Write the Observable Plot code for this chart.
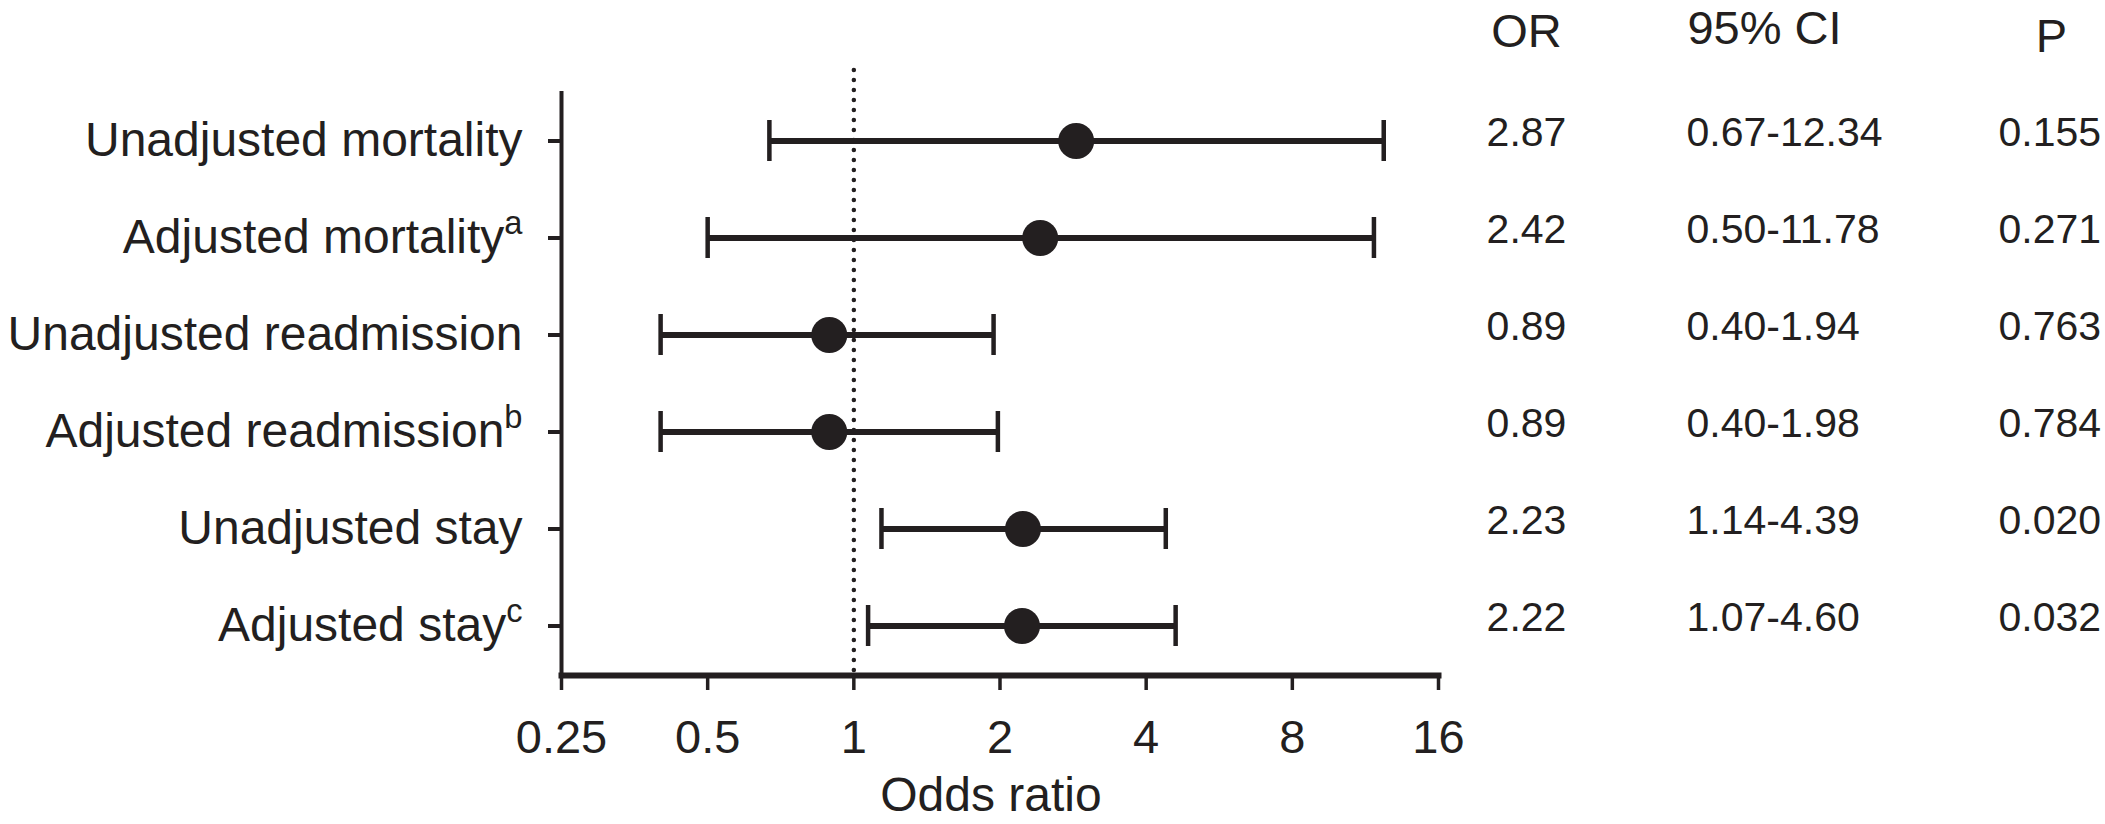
<!DOCTYPE html>
<html><head><meta charset="utf-8">
<script src="https://cdn.jsdelivr.net/npm/d3@7"></script>
<script src="https://cdn.jsdelivr.net/npm/@observablehq/plot@0.6"></script>
<style>html,body{margin:0;padding:0;background:#fff;overflow:hidden}</style>
</head><body><div id="chart"></div>
<script>
const labels = ["Unadjusted mortality","Adjusted mortality","Unadjusted readmission","Adjusted readmission","Unadjusted stay","Adjusted stay"];
const superscripts = ["","a","","b","","c"];
const oddsRatio = [2.87,2.42,0.89,0.89,2.23,2.22];
const ciLow = [0.67,0.50,0.40,0.40,1.14,1.07];
const ciHigh = [12.34,11.78,1.94,1.98,4.39,4.60];
const pValues = ["0.155","0.271","0.763","0.784","0.020","0.032"];
const xTicks = [0.25,0.5,1,2,4,8,16];
const headers = ["OR","95% CI","P"];
const xLabel = "Odds ratio";

const rows = labels.map((label,i)=>({
  label, or: oddsRatio[i], lo: ciLow[i], hi: ciHigh[i], p: pValues[i],
  ci: ciLow[i].toFixed(2)+"-"+ciHigh[i].toFixed(2), orText: oddsRatio[i].toFixed(2)
}));

const ink = "#231f20";
const plot = Plot.plot({
  width: 2105, height: 824,
  marginLeft: 561, marginRight: 667, marginTop: 91, marginBottom: 149,
  style: {fontFamily: "'Liberation Sans', Arial, sans-serif", color: ink, background: "#fff"},
  x: {type: "log", base: 2, domain: [0.25,16]},
  y: {type: "band", domain: labels, padding: 0, label: null},
  marks: [
    Plot.frame({anchor: "bottom", stroke: ink, strokeWidth: 6}),
    Plot.ruleX([xTicks[0]], {stroke: ink, strokeWidth: 4}),
    Plot.ruleX([1], {stroke: ink, strokeWidth: 4.5, strokeDasharray: "0,10", strokeLinecap: "round", insetTop: -21}),
    Plot.axisX({ticks: xTicks, tickFormat: d => String(d), tickSize: 15, tickPadding: 29, fontSize: 47, strokeWidth: 3.5, label: null}),
    Plot.axisY({tickSize: 13, tickPadding: 26, fontSize: 48, strokeWidth: 4, label: null}),
    Plot.ruleY(rows, {y: "label", x1: "lo", x2: "hi", stroke: ink, strokeWidth: 6}),
    Plot.tickX(rows, {x: "lo", y: "label", stroke: ink, strokeWidth: 4.5, insetTop: 28, insetBottom: 28}),
    Plot.tickX(rows, {x: "hi", y: "label", stroke: ink, strokeWidth: 4.5, insetTop: 28, insetBottom: 28}),
    Plot.dot(rows, {x: "or", y: "label", r: 18, fill: ink, stroke: null}),
    Plot.text(rows, {y: "label", text: "orText", frameAnchor: "right", dx: 88, dy: -8, fontSize: 41, textAnchor: "middle", lineAnchor: "middle", fill: ink}),
    Plot.text(rows, {y: "label", text: "ci", frameAnchor: "right", dx: 248, dy: -8, fontSize: 41, textAnchor: "start", lineAnchor: "middle", fill: ink}),
    Plot.text(rows, {y: "label", text: "p", frameAnchor: "right", dx: 560, dy: -8, fontSize: 41, textAnchor: "start", lineAnchor: "middle", fill: ink}),
    Plot.text([headers[0]], {frameAnchor: "top-right", dx: 88, dy: -60, fontSize: 47, textAnchor: "middle", lineAnchor: "middle", fill: ink}),
    Plot.text([headers[1]], {frameAnchor: "top-right", dx: 326, dy: -63, fontSize: 47, textAnchor: "middle", lineAnchor: "middle", fill: ink}),
    Plot.text([headers[2]], {frameAnchor: "top-right", dx: 613, dy: -55, fontSize: 47, textAnchor: "middle", lineAnchor: "middle", fill: ink}),
    Plot.text([xLabel], {frameAnchor: "bottom", dx: -9, dy: 120, fontSize: 48, textAnchor: "middle", lineAnchor: "middle", fill: ink})
  ]
});

d3.select(plot).selectAll("text").each(function() {
  const i = labels.indexOf(this.textContent);
  if (i >= 0 && superscripts[i]) {
    d3.select(this).append("tspan").attr("dy", "-0.6em").attr("font-size", "0.68em").text(superscripts[i]);
  }
});
document.getElementById("chart").appendChild(plot);
</script>
</body></html>
